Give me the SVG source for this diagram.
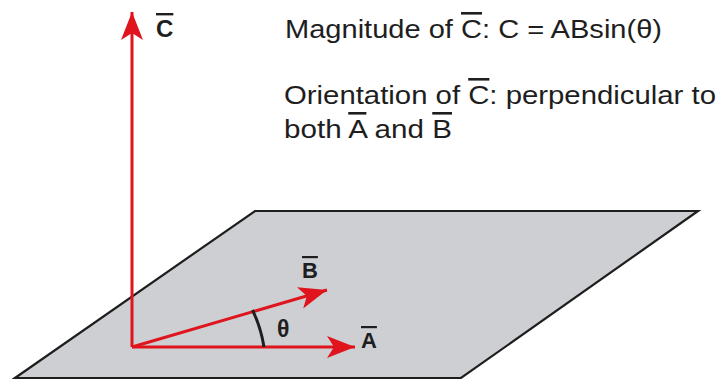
<svg xmlns="http://www.w3.org/2000/svg" width="719" height="381" viewBox="0 0 719 381">
<defs>
<style>
.txt{font-family:"Liberation Sans",Arial,sans-serif;fill:#1e1e1e;font-size:26px}
.lbl{font-family:"Liberation Sans",Arial,sans-serif;fill:#1e1e1e;font-size:22px;font-weight:bold}
.ol{text-decoration:overline}
.vec{stroke:#e0141c;stroke-width:3;fill:none;marker-end:url(#ah)}
</style>
<marker id="ah" markerUnits="userSpaceOnUse" markerWidth="32" markerHeight="26" viewBox="-30 -13 32 26" refX="0" refY="0" orient="auto">
<path d="M0,0 L-28,-11 L-21,0 L-28,11 Z" fill="#e0141c"/>
</marker>
</defs>
<rect width="719" height="381" fill="#ffffff"/>
<g id="plane">
<polygon points="255,211 698,211 461,378 15,378" fill="#cdcfd3" stroke="#1e1e1e" stroke-width="2.2" stroke-linejoin="miter"/>
</g>
<g id="connectors">
<line class="vec" x1="132" y1="347" x2="132" y2="12"/>
<line class="vec" x1="132" y1="347" x2="355" y2="347"/>
<line class="vec" x1="132" y1="347" x2="327" y2="290"/>
<path d="M252.5,310 A132,132 0 0 1 264,347" fill="none" stroke="#1e1e1e" stroke-width="3"/>
</g>
<g id="labelC"><text class="lbl" x="156" y="37" style="font-size:24px"><tspan class="ol">C</tspan></text></g>
<g id="labelB"><text class="lbl" x="302" y="278"><tspan class="ol">B</tspan></text></g>
<g id="labelA"><text class="lbl" x="361" y="348"><tspan class="ol">A</tspan></text></g>
<g id="theta"><text class="lbl" x="277" y="337" style="font-size:23px">θ</text></g>
<g id="desc">
<text class="txt" x="285" y="38" textLength="377" lengthAdjust="spacingAndGlyphs">Magnitude of <tspan class="ol">C</tspan>: C = ABsin(θ)</text>
<text class="txt" x="284" y="104" textLength="432" lengthAdjust="spacingAndGlyphs">Orientation of <tspan class="ol">C</tspan>: perpendicular to</text>
<text class="txt" x="284" y="138" textLength="168" lengthAdjust="spacingAndGlyphs">both <tspan class="ol">A</tspan> and <tspan class="ol">B</tspan></text>
</g>
</svg>
